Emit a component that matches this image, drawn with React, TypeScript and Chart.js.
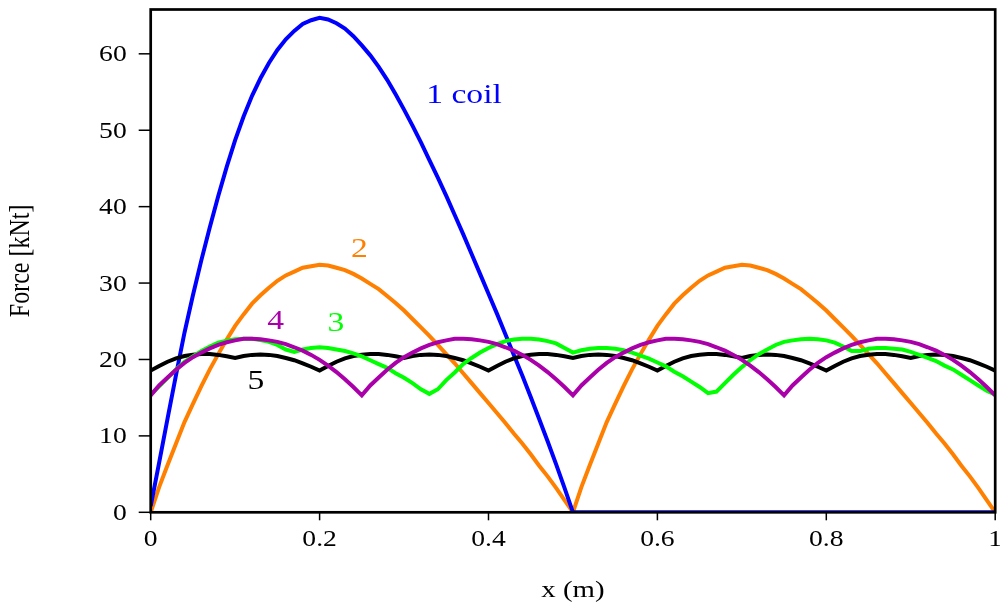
import React, { useEffect, useRef } from 'react';
import { Chart, registerables } from 'chart.js';

Chart.register(...registerables);

// x positions (m)
const xValues = [
  0, 0.01, 0.02, 0.03, 0.04, 0.05, 0.06, 0.07, 0.08, 0.09,
  0.1, 0.11, 0.12, 0.13, 0.14, 0.15, 0.16, 0.17, 0.18, 0.19,
  0.2, 0.21, 0.22, 0.23, 0.24, 0.25, 0.26, 0.27, 0.28, 0.29,
  0.3, 0.31, 0.32, 0.33, 0.34, 0.35, 0.36, 0.37, 0.38, 0.39,
  0.4, 0.41, 0.42, 0.43, 0.44, 0.45, 0.46, 0.47, 0.48, 0.49,
  0.5, 0.51, 0.52, 0.53, 0.54, 0.55, 0.56, 0.57, 0.58, 0.59,
  0.6, 0.61, 0.62, 0.63, 0.64, 0.65, 0.66, 0.67, 0.68, 0.69,
  0.7, 0.71, 0.72, 0.73, 0.74, 0.75, 0.76, 0.77, 0.78, 0.79,
  0.8, 0.81, 0.82, 0.83, 0.84, 0.85, 0.86, 0.87, 0.88, 0.89,
  0.9, 0.91, 0.92, 0.93, 0.94, 0.95, 0.96, 0.97, 0.98, 0.99,
  1,
];

// Force [kNt] per configuration
const coil1 = [
  0.8, 6.5, 12.3, 18.0, 23.5, 28.4, 33.0, 37.3, 41.4, 45.2,
  48.7, 51.8, 54.5, 56.8, 58.8, 60.5, 61.9, 63.0, 63.9, 64.4,
  64.7, 64.5, 64.0, 63.3, 62.3, 61.1, 59.8, 58.3, 56.6, 54.7,
  52.7, 50.6, 48.4, 46.1, 43.8, 41.4, 38.9, 36.4, 33.8, 31.2,
  28.6, 26.0, 23.3, 20.6, 17.9, 15.1, 12.2, 9.3, 6.3, 3.2,
  0, 0, 0, 0, 0, 0, 0, 0, 0, 0,
  0, 0, 0, 0, 0, 0, 0, 0, 0, 0,
  0, 0, 0, 0, 0, 0, 0, 0, 0, 0,
  0, 0, 0, 0, 0, 0, 0, 0, 0, 0,
  0, 0, 0, 0, 0, 0, 0, 0, 0, 0,
  0,
];

const coils2 = [
  0, 3.3, 6.2, 9.0, 11.8, 14.2, 16.5, 18.7, 20.7, 22.6,
  24.4, 25.9, 27.3, 28.4, 29.4, 30.3, 31.0, 31.5, 32.0, 32.2,
  32.4, 32.3, 32.0, 31.7, 31.2, 30.6, 29.9, 29.2, 28.3, 27.4,
  26.4, 25.3, 24.2, 23.1, 21.9, 20.7, 19.5, 18.2, 16.9, 15.6,
  14.3, 13.0, 11.7, 10.3, 9.0, 7.6, 6.1, 4.7, 3.2, 1.6,
  0, 3.3, 6.2, 9.0, 11.8, 14.2, 16.5, 18.7, 20.7, 22.6,
  24.4, 25.9, 27.3, 28.4, 29.4, 30.3, 31.0, 31.5, 32.0, 32.2,
  32.4, 32.3, 32.0, 31.7, 31.2, 30.6, 29.9, 29.2, 28.3, 27.4,
  26.4, 25.3, 24.2, 23.1, 21.9, 20.7, 19.5, 18.2, 16.9, 15.6,
  14.3, 13.0, 11.7, 10.3, 9.0, 7.6, 6.1, 4.7, 3.2, 1.6,
  0,
];

const coils3 = [
  15.4, 16.5, 17.6, 18.7, 19.7, 20.4, 21.1, 21.7, 22.2, 22.45,
  22.65, 22.7, 22.7, 22.55, 22.3, 21.9, 21.3, 21.0, 21.3, 21.5,
  21.6, 21.5, 21.3, 21.1, 20.8, 20.4, 19.9, 19.4, 18.9, 18.2,
  17.6, 16.9, 16.1, 15.5, 16.1, 17.3, 18.3, 19.4, 20.2, 20.9,
  21.5, 22.0, 22.4, 22.6, 22.7, 22.7, 22.6, 22.4, 22.1, 21.5,
  20.9, 21.2, 21.4, 21.5, 21.5, 21.4, 21.2, 20.9, 20.5, 20.1,
  19.6, 19.1, 18.4, 17.8, 17.1, 16.4, 15.6, 15.8, 16.9, 18.0,
  19.0, 19.9, 20.7, 21.3, 21.9, 22.3, 22.5, 22.65, 22.7, 22.65,
  22.5, 22.2, 21.7, 21.1, 21.1, 21.4, 21.5, 21.5, 21.4, 21.3,
  21.0, 20.6, 20.2, 19.8, 19.2, 18.7, 18.0, 17.3, 16.6, 15.9,
  15.4,
];

const coils4 = [
  15.3, 16.6, 17.65, 18.65, 19.55, 20.3, 20.9, 21.45, 21.9, 22.25,
  22.5, 22.7, 22.7, 22.65, 22.5, 22.3, 22.0, 21.6, 21.15, 20.6,
  19.95, 19.2, 18.35, 17.4, 16.4,
  15.3, 16.6, 17.65, 18.65, 19.55, 20.3, 20.9, 21.45, 21.9, 22.25,
  22.5, 22.7, 22.7, 22.65, 22.5, 22.3, 22.0, 21.6, 21.15, 20.6,
  19.95, 19.2, 18.35, 17.4, 16.4,
  15.3, 16.6, 17.65, 18.65, 19.55, 20.3, 20.9, 21.45, 21.9, 22.25,
  22.5, 22.7, 22.7, 22.65, 22.5, 22.3, 22.0, 21.6, 21.15, 20.6,
  19.95, 19.2, 18.35, 17.4, 16.4,
  15.3, 16.6, 17.65, 18.65, 19.55, 20.3, 20.9, 21.45, 21.9, 22.25,
  22.5, 22.7, 22.7, 22.65, 22.5, 22.3, 22.0, 21.6, 21.15, 20.6,
  19.95, 19.2, 18.35, 17.4, 16.4,
  15.3,
];

const coils5 = [
  18.55, 19.15, 19.7, 20.15, 20.45, 20.62, 20.7, 20.7, 20.6, 20.42,
  20.2, 20.45, 20.6, 20.65, 20.6, 20.45, 20.2, 19.9, 19.5, 19.05,
  18.55, 19.15, 19.7, 20.15, 20.45, 20.62, 20.7, 20.7, 20.6, 20.42,
  20.2, 20.45, 20.6, 20.65, 20.6, 20.45, 20.2, 19.9, 19.5, 19.05,
  18.55, 19.15, 19.7, 20.15, 20.45, 20.62, 20.7, 20.7, 20.6, 20.42,
  20.2, 20.45, 20.6, 20.65, 20.6, 20.45, 20.2, 19.9, 19.5, 19.05,
  18.55, 19.15, 19.7, 20.15, 20.45, 20.62, 20.7, 20.7, 20.6, 20.42,
  20.2, 20.45, 20.6, 20.65, 20.6, 20.45, 20.2, 19.9, 19.5, 19.05,
  18.55, 19.15, 19.7, 20.15, 20.45, 20.62, 20.7, 20.7, 20.6, 20.42,
  20.2, 20.45, 20.6, 20.65, 20.6, 20.45, 20.2, 19.9, 19.5, 19.05,
  18.55,
];

const xTicks = [0, 0.2, 0.4, 0.6, 0.8, 1];
const xTickLabels = ['0', '0.2', '0.4', '0.6', '0.8', '1'];
const yTicks = [0, 10, 20, 30, 40, 50, 60];
const yTickLabels = ['0', '10', '20', '30', '40', '50', '60'];

const BLUE = '#0000ff';
const ORANGE = '#ff8000';
const GREEN = '#00ff00';
const MAGENTA = '#aa00aa';
const BLACK = '#000000';

// curve annotations (data coordinates: x centre, y baseline)
const curveLabels = [
  { text: '1 coil', x: 0.371, y: 53.6, color: BLUE },
  { text: '2', x: 0.2472, y: 33.46, color: ORANGE },
  { text: '3', x: 0.2192, y: 23.78, color: GREEN },
  { text: '4', x: 0.148, y: 23.96, color: MAGENTA },
  { text: '5', x: 0.1245, y: 16.1, color: BLACK },
];

const xTitle = 'x (m)';
const yTitle = 'Force [kNt]';

export default function App() {
  const ref = useRef<HTMLCanvasElement>(null);

  useEffect(() => {
    if (!ref.current) return;
    const FONT = "'Liberation Serif', 'Times New Roman', serif";
    const SX = 1.2;

    const txt = (
      ctx: CanvasRenderingContext2D,
      s: string,
      x: number,
      y: number,
      size: number,
      color: string,
      align: CanvasTextAlign,
      rotate = false
    ) => {
      ctx.save();
      ctx.translate(x, y);
      ctx.scale(SX, 1);
      if (rotate) ctx.rotate(-Math.PI / 2);
      ctx.font = `${size}px ${FONT}`;
      ctx.fillStyle = color;
      ctx.textAlign = align;
      ctx.textBaseline = 'alphabetic';
      ctx.fillText(s, 0, 0);
      ctx.restore();
    };

    const decor = {
      id: 'decor',
      afterDatasetsDraw(chart: any) {
        const { ctx, chartArea: a, scales } = chart;
        const xs = scales.x;
        const ys = scales.y;
        ctx.save();
        ctx.strokeStyle = '#000';
        ctx.lineWidth = 2.7;
        ctx.strokeRect(a.left, a.top, a.right - a.left, a.bottom - a.top);

        ctx.lineWidth = 1.5;
        yTicks.forEach((v, i) => {
          const py = ys.getPixelForValue(v);
          ctx.beginPath();
          ctx.moveTo(a.left - 12, py);
          ctx.lineTo(a.left, py);
          ctx.stroke();
          txt(ctx, yTickLabels[i], a.left - 24, py + 7.6, 23, '#000', 'right');
        });
        xTicks.forEach((v, i) => {
          const px = xs.getPixelForValue(v);
          ctx.beginPath();
          ctx.moveTo(px, a.bottom);
          ctx.lineTo(px, a.bottom + 8);
          ctx.stroke();
          txt(ctx, xTickLabels[i], px, a.bottom + 33.7, 23, '#000', 'center');
        });

        txt(ctx, xTitle, (a.left + a.right) / 2, a.bottom + 84.7, 24, '#000', 'center');
        txt(ctx, yTitle, 29, (a.top + a.bottom) / 2, 24, '#000', 'center', true);

        curveLabels.forEach((l) => {
          txt(ctx, l.text, xs.getPixelForValue(l.x), ys.getPixelForValue(l.y), 28, l.color, 'center');
        });
        ctx.restore();
      },
    };

    const mk = (vals: number[]) => xValues.map((x, i) => ({ x, y: vals[i] }));
    const ds = (label: string, vals: number[], color: string, order: number) => ({
      label,
      data: mk(vals),
      borderColor: color,
      backgroundColor: color,
      borderWidth: 4,
      pointRadius: 0,
      tension: 0,
      fill: false,
      order,
    });

    const chart = new Chart(ref.current, {
      type: 'line',
      data: {
        datasets: [
          ds('1 coil', coil1, BLUE, 3),
          ds('2 coils', coils2, ORANGE, 4),
          ds('3 coils', coils3, GREEN, 1),
          ds('4 coils', coils4, MAGENTA, 0),
          ds('5 coils', coils5, BLACK, 2),
        ],
      },
      options: {
        animation: false,
        responsive: false,
        layout: { padding: { left: 150.7, right: 4.8, top: 9.5, bottom: 96.7 } },
        plugins: { legend: { display: false }, tooltip: { enabled: false } },
        scales: {
          x: { type: 'linear', min: 0, max: 1, display: false },
          y: { type: 'linear', min: 0, max: 65.8, display: false },
        },
      },
      plugins: [decor],
    } as any);

    return () => chart.destroy();
  }, []);

  return (
    <div style={{ position: 'fixed', left: 0, top: 0, width: 1000, height: 609, background: '#fff' }}>
      <canvas ref={ref} width={1000} height={609} style={{ display: 'block' }} />
    </div>
  );
}
